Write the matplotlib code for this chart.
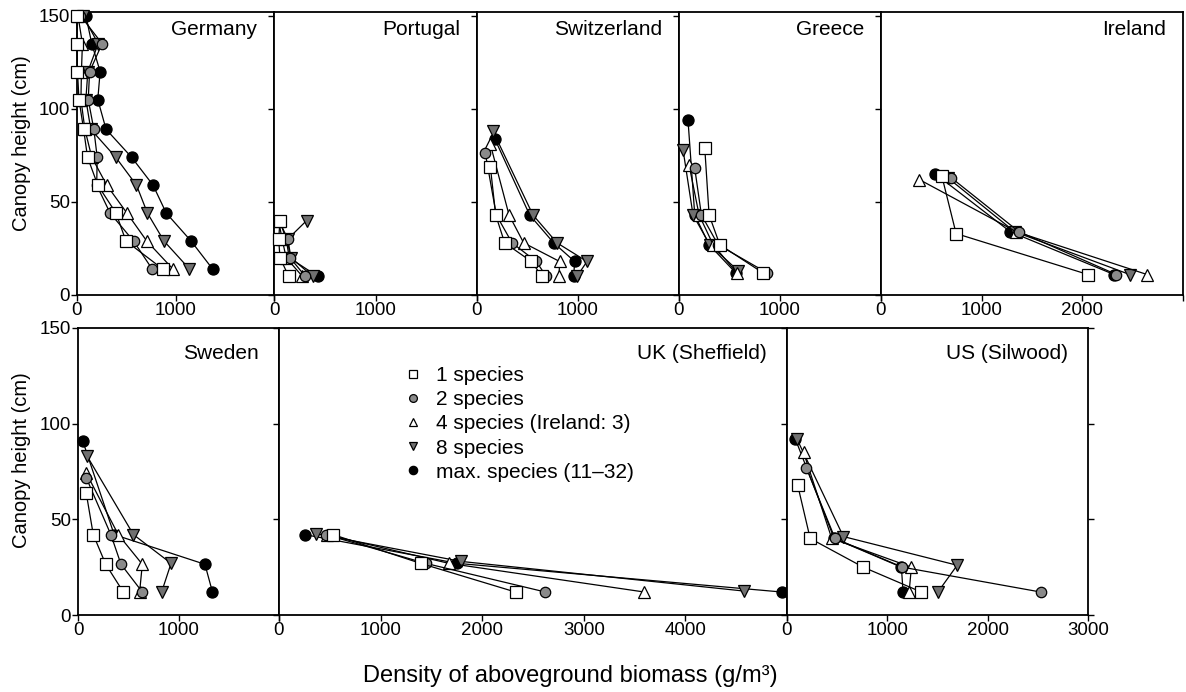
import matplotlib.pyplot as plt
from matplotlib.lines import Line2D

plt.rcParams['font.family'] = ['Liberation Sans', 'DejaVu Sans']

# canopy height (cm) and biomass density (g/m3) per species level
ger_y = [150, 135, 120, 105, 89, 74, 59, 44, 29, 14]
ger_1 = [0, 0, 5, 20, 67, 107, 211, 396, 497, 869]
ger_2 = [35, 255, 128, 114, 171, 205, 200, 336, 574, 762]
ger_4 = [10, 55, 45, 40, 80, 150, 302, 507, 708, 973]
ger_8 = [60, 215, 110, 90, 140, 393, 604, 715, 883, 1141]
ger_max = [90, 150, 235, 211, 295, 554, 772, 906, 1158, 1376]

por_y = [40, 30, 20, 10]
por_1 = [59, 46, 59, 145]
por_2 = [50, 135, 158, 309]
por_4 = [45, 80, 120, 280]
por_8 = [322, 135, 168, 382]
por_max = [55, 120, 150, 431]

sw_y1, sw_x1 = [69, 43, 28, 18, 10], [132, 185, 274, 538, 644]
sw_y2, sw_x2 = [76, 43, 28, 18, 10], [83, 191, 347, 587, 686]
sw_y4, sw_x4 = [81, 43, 28, 18, 10], [132, 317, 462, 818, 812]
sw_y8, sw_x8 = [88, 43, 28, 18, 10], [158, 554, 792, 1089, 990]
sw_ymax, sw_xmax = [84, 43, 28, 18, 10], [175, 521, 759, 967, 957]

gr_y1, gr_x1 = [79, 43, 27, 12], [255, 298, 404, 828]
gr_y2, gr_x2 = [68, 43, 27, 12], [156, 222, 387, 868]
gr_y4, gr_x4 = [70, 43, 27, 12], [99, 199, 338, 570]
gr_y8, gr_x8 = [78, 43, 27, 13], [40, 139, 305, 586]
gr_ymax, gr_xmax = [94, 43, 27, 12], [89, 156, 298, 560]

ir_y1, ir_x1 = [64, 33, 11], [604, 746, 2056]
ir_y2, ir_x2 = [63, 34, 11], [697, 1370, 2338]
ir_y4, ir_x4 = [62, 34, 11], [381, 1343, 2643]
ir_y8, ir_x8 = [63, 34, 11], [663, 1327, 2471]
ir_ymax, ir_xmax = [65, 34, 11], [541, 1284, 2315]

se_y1, se_x1 = [64, 42, 26.5, 12], [81, 152, 276, 451]
se_y2, se_x2 = [71.5, 42, 26.5, 12], [84, 327, 428, 640]
se_y4, se_x4 = [74, 42, 26.5, 12], [84, 401, 640, 613]
se_y8, se_x8 = [83, 42, 27, 12], [91, 552, 926, 832]
se_ymax, se_xmax = [91, 42, 26.5, 12], [47, 360, 1263, 1338]

uk_y1, uk_x1 = [42, 27, 12], [534, 1393, 2328]
uk_y2, uk_x2 = [42, 27, 12], [459, 1443, 2623]
uk_y4, uk_x4 = [42, 27, 12], [469, 1672, 3597]
uk_y8, uk_x8 = [42.5, 28, 12.5], [361, 1793, 4580]
uk_ymax, uk_xmax = [42, 27, 12], [256, 1754, 4951]

us_y1, us_x1 = [68, 40, 25, 12], [106, 231, 760, 1339]
us_y2, us_x2 = [77, 40, 25, 12], [192, 479, 1150, 2529]
us_y4, us_x4 = [85, 40, 25, 12], [165, 446, 1240, 1217]
us_y8, us_x8 = [92, 41, 26, 12], [99, 562, 1696, 1504]
us_ymax, us_xmax = [92, 40, 25, 12], [83, 470, 1140, 1157]

labels = ['1 species', '2 species', '4 species (Ireland: 3)', '8 species',
          'max. species (11\u201332)']
styles = [('s', 'white', 8), ('o', '#8a8a8a', 7.5), ('^', 'white', 8.5),
          ('v', '#707070', 8.5), ('o', 'black', 8)]

W, H = 1186, 692
fig = plt.figure(figsize=(W / 100, H / 100), dpi=100)

# name, xmax, pixel box (x0, x1, ytop, ybot), series
panels = [
    ('Germany', 2000, (77, 274, 12, 295),
     [(ger_1, ger_y), (ger_2, ger_y), (ger_4, ger_y), (ger_8, ger_y), (ger_max, ger_y)]),
    ('Portugal', 2000, (274, 477, 12, 295),
     [(por_1, por_y), (por_2, por_y), (por_4, por_y), (por_8, por_y), (por_max, por_y)]),
    ('Switzerland', 2000, (477, 679, 12, 295),
     [(sw_x1, sw_y1), (sw_x2, sw_y2), (sw_x4, sw_y4), (sw_x8, sw_y8), (sw_xmax, sw_ymax)]),
    ('Greece', 2000, (679, 881, 12, 295),
     [(gr_x1, gr_y1), (gr_x2, gr_y2), (gr_x4, gr_y4), (gr_x8, gr_y8), (gr_xmax, gr_ymax)]),
    ('Ireland', 3000, (881, 1183, 12, 295),
     [(ir_x1, ir_y1), (ir_x2, ir_y2), (ir_x4, ir_y4), (ir_x8, ir_y8), (ir_xmax, ir_ymax)]),
    ('Sweden', 2000, (78, 279, 328, 615),
     [(se_x1, se_y1), (se_x2, se_y2), (se_x4, se_y4), (se_x8, se_y8), (se_xmax, se_ymax)]),
    ('UK (Sheffield)', 5000, (279, 787, 328, 615),
     [(uk_x1, uk_y1), (uk_x2, uk_y2), (uk_x4, uk_y4), (uk_x8, uk_y8), (uk_xmax, uk_ymax)]),
    ('US (Silwood)', 3000, (787, 1088, 328, 615),
     [(us_x1, us_y1), (us_x2, us_y2), (us_x4, us_y4), (us_x8, us_y8), (us_xmax, us_ymax)]),
]

axes = {}
for name, xmax, (x0, x1, yt, yb), series in panels:
    ax = fig.add_axes([x0 / W, 1 - yb / H, (x1 - x0) / W, (yb - yt) / H])
    axes[name] = ax
    # max species drawn first, 1 species on top
    for k, ((xs, ys), (m, fc, ms)) in enumerate(zip(series, styles)):
        ax.plot(xs, ys, '-', color='black', lw=0.9, marker=m, mfc=fc, mec='black',
                mew=0.9, ms=ms, clip_on=False, zorder=10 - k)
    top_row = yt < 100
    ax.set_xlim(0, xmax)
    ax.set_ylim(0, 152 if top_row else 150)
    ticks = list(range(0, xmax + 1, 1000))
    ax.set_xticks(ticks)
    last = name == 'US (Silwood)'
    ax.set_xticklabels([str(t) if (t < xmax or last) else '' for t in ticks])
    ax.set_yticks([0, 50, 100, 150])
    first = name in ('Germany', 'Sweden')
    ax.tick_params(direction='out', length=4, width=1, labelsize=13.5, pad=1,
                   labelleft=first, right=last)
    for s in ax.spines.values():
        s.set_linewidth(1.3)
    dx, dy = (17, 8) if top_row else (20, 16)
    ax.annotate(name, xy=(1, 1), xycoords='axes fraction', xytext=(-dx, -dy),
                textcoords='offset pixels', ha='right', va='top', fontsize=15)

handles = [Line2D([], [], ls='none', marker=m, mfc=fc, mec='black', mew=0.9, ms=ms * 0.75)
           for m, fc, ms in styles]
axes['UK (Sheffield)'].legend(handles, labels, loc='upper left', bbox_to_anchor=(0.244, 0.868),
                              frameon=False, fontsize=15, handlelength=1.0, handletextpad=0.6,
                              labelspacing=0.25, borderpad=0, borderaxespad=0)

fig.text(22 / W, 1 - 143 / H, 'Canopy height (cm)', rotation=90, ha='center', va='center',
         fontsize=14.5)
fig.text(22 / W, 1 - 460 / H, 'Canopy height (cm)', rotation=90, ha='center', va='center',
         fontsize=14.5)
fig.text(570 / W, 1 - 676 / H, 'Density of aboveground biomass (g/m\u00b3)', ha='center',
         va='center', fontsize=17)

fig.savefig('out.png', dpi=100)
